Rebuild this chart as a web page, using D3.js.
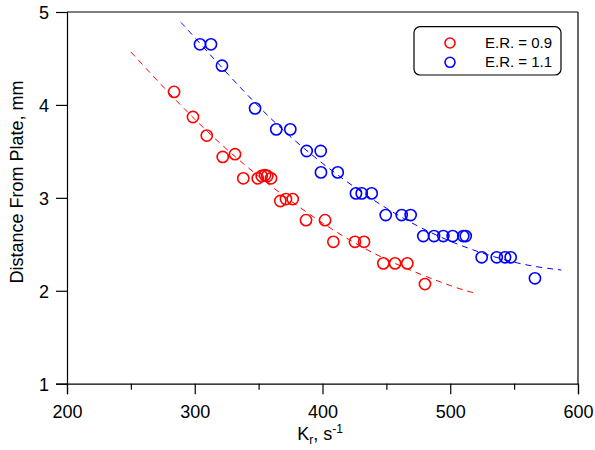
<!DOCTYPE html>
<html>
<head>
<meta charset="utf-8">
<script src="https://cdn.jsdelivr.net/npm/d3@7"></script>
<style>
  html, body { margin: 0; padding: 0; background: #fff; }
  svg { display: block; font-family: "Liberation Sans", Arial, sans-serif; }
</style>
</head>
<body>
<svg id="chart" width="595" height="450"></svg>
<script>
// ---- data ----
const seriesNames = ["E.R. = 0.9", "E.R. = 1.1"];
const seriesColors = ["#ff0000", "#0000ff"];

const red_x = [283.8, 298.6, 309.4, 321.9, 331.5, 338.0, 349.3, 352.4, 355.0, 356.8, 359.7,
               367.0, 371.4, 376.7, 387.1, 402.0, 408.5, 425.4, 432.5, 447.6, 456.8, 466.4, 480.2];
const red_y = [4.14, 3.87, 3.67, 3.44, 3.47, 3.21, 3.21, 3.235, 3.245, 3.235, 3.21,
               2.966, 2.987, 2.987, 2.76, 2.76, 2.527, 2.527, 2.527, 2.295, 2.295, 2.295, 2.072];

const blue_x = [304.1, 312.7, 321.3, 347.2, 363.8, 374.8, 387.6, 398.6, 398.8, 411.9,
                426.2, 430.7, 438.5, 449.5, 462.0, 469.0, 478.9, 487.3, 494.6, 501.9, 510.2, 512.1,
                524.6, 536.4, 542.9, 547.3, 566.3];
const blue_y = [4.652, 4.652, 4.422, 3.963, 3.737, 3.737, 3.504, 3.504, 3.274, 3.274,
                3.048, 3.048, 3.048, 2.815, 2.815, 2.815, 2.589, 2.589, 2.589, 2.589, 2.589, 2.589,
                2.36, 2.36, 2.36, 2.36, 2.134];

// dashed trend curves
const redFit_x = [250, 300, 350, 400, 450, 500, 520];
const redFit_y = [4.57, 3.846, 3.2325, 2.7298, 2.3377, 2.0564, 1.975];
const blueFit_x = [289, 300, 350, 400, 450, 500, 550, 587];
const blueFit_y = [4.889, 4.725, 3.984, 3.372, 2.889, 2.534, 2.308, 2.2235];

const xTicks = [200, 300, 400, 500, 600];
const xMinorTicks = [250, 350, 450, 550];
const yTicks = [1, 2, 3, 4, 5];

// ---- drawing ----
const svg = d3.select("#chart");
const L = 67, R = 578, T = 12, B = 383.7;
const x = d3.scaleLinear().domain([200, 600]).range([L, R]);
const y = d3.scaleLinear().domain([1, 5]).range([B, T]);

// frame (top + right)
svg.append("line").attr("x1", L).attr("x2", R).attr("y1", T).attr("y2", T)
  .attr("stroke", "#000").attr("stroke-width", 1.2);
svg.append("line").attr("x1", R).attr("x2", R).attr("y1", T).attr("y2", B)
  .attr("stroke", "#000").attr("stroke-width", 1.2);

// x axis
const xAxis = svg.append("g").attr("transform", `translate(0,${B})`)
  .call(d3.axisBottom(x).tickValues(xTicks).tickSize(10.5).tickPadding(11).tickFormat(d3.format("d")));
svg.append("g").attr("transform", `translate(0,${B})`)
  .call(d3.axisBottom(x).tickValues(xMinorTicks).tickSize(6).tickFormat(""))
  .call(g => g.select(".domain").remove());

// y axis
const yAxis = svg.append("g").attr("transform", `translate(${L},0)`)
  .call(d3.axisLeft(y).tickValues(yTicks).tickSize(11).tickPadding(7).tickFormat(d3.format("d")));

svg.selectAll(".tick text").attr("font-size", 18).attr("fill", "#000")
  .attr("font-family", "'Liberation Sans', Arial, sans-serif");
svg.selectAll(".domain, .tick line").attr("stroke", "#000").attr("stroke-width", 1.2);
yAxis.selectAll(".tick text").attr("dy", "0.36em");

// axis labels
const xl = svg.append("text").attr("x", 320).attr("y", 440).attr("text-anchor", "middle")
  .attr("font-size", 18).attr("fill", "#000");
xl.append("tspan").text("K");
xl.append("tspan").text("r").attr("font-size", 12).attr("dy", 4);
xl.append("tspan").text(", s").attr("dy", -4);
xl.append("tspan").text("-1").attr("font-size", 12).attr("dy", -7);

svg.append("text").attr("transform", "translate(23,182) rotate(-90)")
  .attr("text-anchor", "middle").attr("font-size", 18).attr("fill", "#000")
  .text("Distance From Plate, mm");

// dashed fit curves
const line = d3.line().x(d => x(d[0])).y(d => y(d[1])).curve(d3.curveNatural);
const fits = [d3.zip(redFit_x, redFit_y), d3.zip(blueFit_x, blueFit_y)];
fits.forEach((pts, i) => {
  svg.append("path").datum(pts).attr("d", line)
    .attr("fill", "none").attr("stroke", seriesColors[i]).attr("stroke-width", 1)
    .attr("stroke-dasharray", "6,5");
});

// points
const series = [d3.zip(red_x, red_y), d3.zip(blue_x, blue_y)];
series.forEach((pts, i) => {
  svg.append("g").selectAll("circle").data(pts).join("circle")
    .attr("cx", d => x(d[0])).attr("cy", d => y(d[1])).attr("r", 5.6)
    .attr("fill", "none").attr("stroke", seriesColors[i]).attr("stroke-width", 1.6);
});

// legend
const lg = svg.append("g");
lg.append("rect").attr("x", 414).attr("y", 26.7).attr("width", 147).attr("height", 48.3)
  .attr("rx", 6).attr("ry", 6).attr("fill", "#fff").attr("stroke", "#000").attr("stroke-width", 1.2);
seriesNames.forEach((name, i) => {
  const cy = 43 + i * 19.3;
  lg.append("circle").attr("cx", 450).attr("cy", cy).attr("r", 5)
    .attr("fill", "none").attr("stroke", seriesColors[i]).attr("stroke-width", 1.6);
  lg.append("text").attr("x", 485).attr("y", cy + 5).attr("font-size", 15).attr("fill", "#000").text(name);
});
</script>
</body>
</html>
